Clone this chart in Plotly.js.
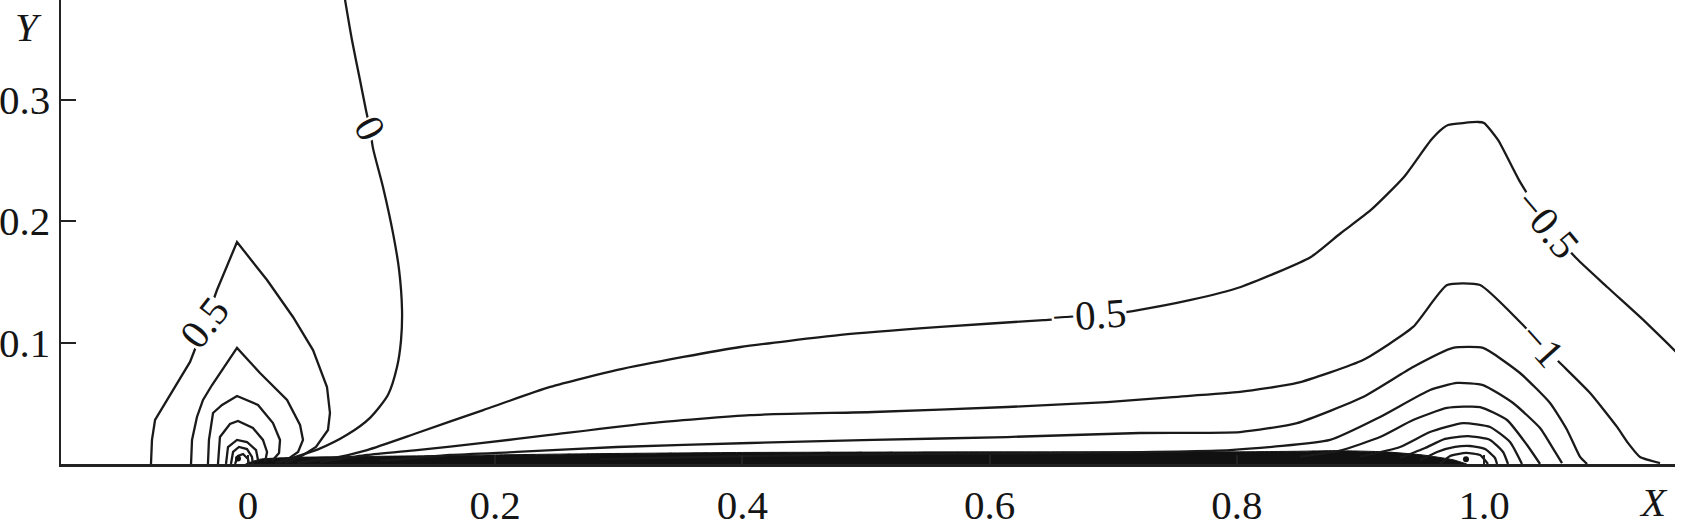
<!DOCTYPE html>
<html>
<head>
<meta charset="utf-8">
<script src="https://cdn.plot.ly/plotly-3.0.1.min.js"></script>
<style>
html,body{margin:0;padding:0;background:#fff;}
#chart{width:1682px;height:529px;}
</style>
</head>
<body>
<div id="chart"></div>
<script>
// ---- tick labels ----
const xTickVals = [0, 0.2, 0.4, 0.6, 0.8, 1.0];
const xTickText = ["0", "0.2", "0.4", "0.6", "0.8", "1.0"];
const yTickVals = [0.1, 0.2, 0.3];
const yTickText = ["0.1", "0.2", "0.3"];

// ---- contour level 0 ----
const c0X = [0.0785, 0.0841, 0.0906, 0.0955, 0.0987, 0.1011, 0.1092, 0.1173, 0.1222, 0.1246, 0.1238, 0.1206, 0.1133, 0.0987, 0.0801, 0.0566, 0.0356, 0.0218];
const c0Y = [0.382, 0.349, 0.316, 0.291, 0.276, 0.260, 0.228, 0.190, 0.160, 0.127, 0.102, 0.080, 0.057, 0.038, 0.024, 0.012, 0.005, 0.001];

// ---- negative contours (wall region) ----
const cm05X = [0.0400, 0.0559, 0.0688, 0.0964, 0.1368, 0.1903, 0.2445, 0.2988, 0.3522, 0.3984, 0.4794, 0.5603, 0.6437, 0.6800, 0.7158, 0.7628, 0.8032, 0.8599, 0.8842, 0.9085, 0.9352, 0.9571, 0.9668, 0.9709, 0.9951, 1.0000, 1.0113, 1.0283, 1.0510, 1.0745, 1.0996, 1.1271, 1.1555];
const cm05Y = [0.0010, 0.0033, 0.0049, 0.0115, 0.0255, 0.0444, 0.0634, 0.0774, 0.0881, 0.0963, 0.1062, 0.1128, 0.1185, 0.1210, 0.1259, 0.1350, 0.1457, 0.1704, 0.1901, 0.2091, 0.2362, 0.2667, 0.2765, 0.2790, 0.2815, 0.2807, 0.2667, 0.2337, 0.1975, 0.1695, 0.1457, 0.1202, 0.0922];

const cm1X = [0.0583, 0.0688, 0.0963, 0.1367, 0.1901, 0.2443, 0.3252, 0.4061, 0.5057, 0.6141, 0.6950, 0.7484, 0.8026, 0.8487, 0.9021, 0.9426, 0.9701, 0.9968, 1.0291, 1.0494, 1.0615, 1.0858, 1.1076, 1.1165, 1.1262, 1.1424];
const cm1Y = [0.0016, 0.0033, 0.0074, 0.0115, 0.0173, 0.0239, 0.0337, 0.0403, 0.0428, 0.0469, 0.0510, 0.0551, 0.0593, 0.0667, 0.0856, 0.1128, 0.1473, 0.1473, 0.1169, 0.0955, 0.0831, 0.0584, 0.0305, 0.0173, 0.0058, 0.0008];

const cm15X = [0.1068, 0.1634, 0.2176, 0.2985, 0.4061, 0.5057, 0.6141, 0.7217, 0.8026, 0.8487, 0.9021, 0.9426, 0.9749, 0.9992, 1.0291, 1.0534, 1.0672, 1.0777, 1.0834];
const cm15Y = [0.0025, 0.0074, 0.0099, 0.0140, 0.0173, 0.0198, 0.0222, 0.0255, 0.0263, 0.0337, 0.0551, 0.0798, 0.0955, 0.0955, 0.0749, 0.0502, 0.0280, 0.0058, 0.0000];

const cm2X = [0.2848, 0.4061, 0.5275, 0.6489, 0.7945, 0.8754, 0.9159, 0.9563, 0.9782, 0.9992, 1.0235, 1.0453, 1.0575, 1.0631];
const cm2Y = [0.0040, 0.0066, 0.0082, 0.0090, 0.0115, 0.0198, 0.0387, 0.0609, 0.0667, 0.0650, 0.0502, 0.0296, 0.0099, 0.0008];

const cm25X = [0.8511, 0.8835, 0.9159, 0.9426, 0.9701, 0.9968, 1.0186, 1.0348, 1.0453];
const cm25Y = [0.0060, 0.0110, 0.0222, 0.0362, 0.0461, 0.0469, 0.0362, 0.0156, 0.0000];

const cm3X = [0.8997, 0.9320, 0.9563, 0.9830, 1.0049, 1.0210, 1.0307];
const cm3Y = [0.0060, 0.0140, 0.0263, 0.0337, 0.0305, 0.0181, 0.0000];

const cm35X = [0.9320, 0.9523, 0.9684, 0.9871, 1.0049, 1.0154, 1.0194];
const cm35Y = [0.0050, 0.0132, 0.0206, 0.0230, 0.0198, 0.0099, 0.0000];

const cm4X = [0.9482, 0.9620, 0.9765, 0.9887, 1.0008, 1.0089, 1.0105];
const cm4Y = [0.0030, 0.0099, 0.0140, 0.0148, 0.0123, 0.0049, 0.0000];

const cm45X = [0.9644, 0.9725, 0.9854, 0.9968, 1.0032];
const cm45Y = [0.0000, 0.0066, 0.0091, 0.0074, 0.0000];

// dense contours hugging the wall (drawn as a filled band: top edge)
const bandX = [-0.002, 0.010, 0.040, 0.120, 0.200, 0.280, 0.400, 0.600, 0.800, 0.850, 0.880, 0.920, 0.950, 0.975, 0.986];
const bandY = [0.0000, 0.0040, 0.0055, 0.0065, 0.0075, 0.0085, 0.0095, 0.0100, 0.0100, 0.0105, 0.0110, 0.0100, 0.0075, 0.0035, 0.0000];

// ---- positive contours (left lobes) ----
const cp05X = [-0.0785, -0.0777, -0.0752, -0.0655, -0.0574, -0.0469, -0.0356, -0.0251, -0.0089, 0.0154, 0.0364, 0.0526, 0.0639, 0.0663, 0.0647, 0.0550, 0.0421, 0.0299];
const cp05Y = [0.0000, 0.0198, 0.0362, 0.0527, 0.0667, 0.0840, 0.1136, 0.1432, 0.1827, 0.1514, 0.1210, 0.0938, 0.0634, 0.0420, 0.0280, 0.0140, 0.0058, 0.0008];

const cp1X = [-0.0461, -0.0453, -0.0413, -0.0364, -0.0291, -0.0089, 0.0097, 0.0316, 0.0421, 0.0445, 0.0405, 0.0324, 0.0243];
const cp1Y = [0.0000, 0.0198, 0.0387, 0.0527, 0.0650, 0.0955, 0.0749, 0.0527, 0.0321, 0.0198, 0.0099, 0.0041, 0.0008];

const cp15X = [-0.0324, -0.0316, -0.0283, -0.0210, -0.0089, 0.0081, 0.0202, 0.0259, 0.0251, 0.0194];
const cp15Y = [0.0000, 0.0198, 0.0420, 0.0486, 0.0560, 0.0486, 0.0337, 0.0198, 0.0091, 0.0025];

const cp2X = [-0.0243, -0.0227, -0.0146, -0.0081, 0.0040, 0.0121, 0.0154, 0.0138];
const cp2Y = [0.0000, 0.0222, 0.0329, 0.0354, 0.0296, 0.0198, 0.0099, 0.0016];

const cp25X = [-0.0178, -0.0162, -0.0089, -0.0008, 0.0065, 0.0081];
const cp25Y = [0.0000, 0.0140, 0.0198, 0.0181, 0.0115, 0.0033];

const cp3X = [-0.0138, -0.0121, -0.0073, -0.0008, 0.0032, 0.0040];
const cp3Y = [0.0000, 0.0099, 0.0140, 0.0123, 0.0058, 0.0000];

const cp35X = [-0.0105, -0.0081, -0.0040, 0.0000, 0.0008];
const cp35Y = [0.0000, 0.0066, 0.0082, 0.0041, 0.0000];

// singular points
const singX = [-0.0081, 0.9854];
const singY = [0.0045, 0.0040];

// contour labels
const labText = ["0", "0.5", "\u22120.5", "\u22120.5", "\u22121"];
const labX = [0.0987, -0.0356, 0.6800, 1.0510, 1.0470];
const labY = [0.2765, 0.1160, 0.1225, 0.1975, 0.0980];
const labAngle = [62, -52, -4, 50, 48];

// ---------------------------------------------------------------
function ln(x, y, smooth) {
  const t = {type: 'scatter', mode: 'lines', x: x, y: y, hoverinfo: 'skip',
             line: {color: '#1a1a1a', width: 2.3}};
  if (smooth) { t.line.shape = 'spline'; t.line.smoothing = smooth; }
  return t;
}
const traces = [
  {type: 'scatter', mode: 'lines', x: bandX, y: bandY, fill: 'tozeroy', fillcolor: '#111', line: {color: '#111', width: 1, shape: 'spline', smoothing: 0.5}, hoverinfo: 'skip'},
  ln(c0X, c0Y, 0.7),
  ln(cm05X, cm05Y, 0.55), ln(cm1X, cm1Y, 0.5), ln(cm15X, cm15Y, 0.5), ln(cm2X, cm2Y, 0.5),
  ln(cm25X, cm25Y, 0.5), ln(cm3X, cm3Y, 0.5), ln(cm35X, cm35Y, 0.5), ln(cm4X, cm4Y, 0.5), ln(cm45X, cm45Y, 0.5),
  ln(cp05X, cp05Y), ln(cp1X, cp1Y), ln(cp15X, cp15Y), ln(cp2X, cp2Y),
  ln(cp25X, cp25Y), ln(cp3X, cp3Y), ln(cp35X, cp35Y),
  {type: 'scatter', mode: 'markers', x: singX, y: singY, marker: {color: '#111', size: 6}, hoverinfo: 'skip'}
];

const FONT = {family: 'Liberation Serif, Times New Roman, serif', size: 41, color: '#151515'};
const annotations = labText.map((t, i) => ({
  xref: 'x', yref: 'y', x: labX[i], y: labY[i], text: t, showarrow: false,
  textangle: labAngle[i], font: FONT, bgcolor: '#ffffff', borderpad: 0
}));
annotations.push({xref: 'paper', yref: 'paper', x: -0.0204, y: 0.942, text: '<i>Y</i>', showarrow: false, font: FONT, xanchor: 'center', yanchor: 'middle'});
annotations.push({xref: 'paper', yref: 'paper', x: 0.9865, y: -0.082, text: '<i>X</i>', showarrow: false, font: FONT, xanchor: 'center', yanchor: 'middle'});

const layout = {
  width: 1682, height: 529,
  margin: {l: 61, r: 7, t: 0, b: 65, pad: 0},
  paper_bgcolor: '#ffffff', plot_bgcolor: '#ffffff',
  showlegend: false,
  font: FONT,
  xaxis: {
    range: [-0.1513, 1.1545], showgrid: false, zeroline: false,
    showline: true, linecolor: '#222', linewidth: 2.5,
    ticks: 'inside', ticklen: 9, tickwidth: 2, tickcolor: '#222',
    tickvals: xTickVals, ticktext: xTickText, tickfont: FONT, ticklabelstandoff: 3
  },
  yaxis: {
    range: [0, 0.3819], showgrid: false, zeroline: false,
    showline: true, linecolor: '#222', linewidth: 2.5,
    ticks: 'inside', ticklen: 15, tickwidth: 2, tickcolor: '#222',
    tickvals: yTickVals, ticktext: yTickText, tickfont: FONT, ticklabelstandoff: 0
  },
  annotations: annotations
};

Plotly.newPlot('chart', traces, layout, {staticPlot: true, displayModeBar: false});
</script>
</body>
</html>
